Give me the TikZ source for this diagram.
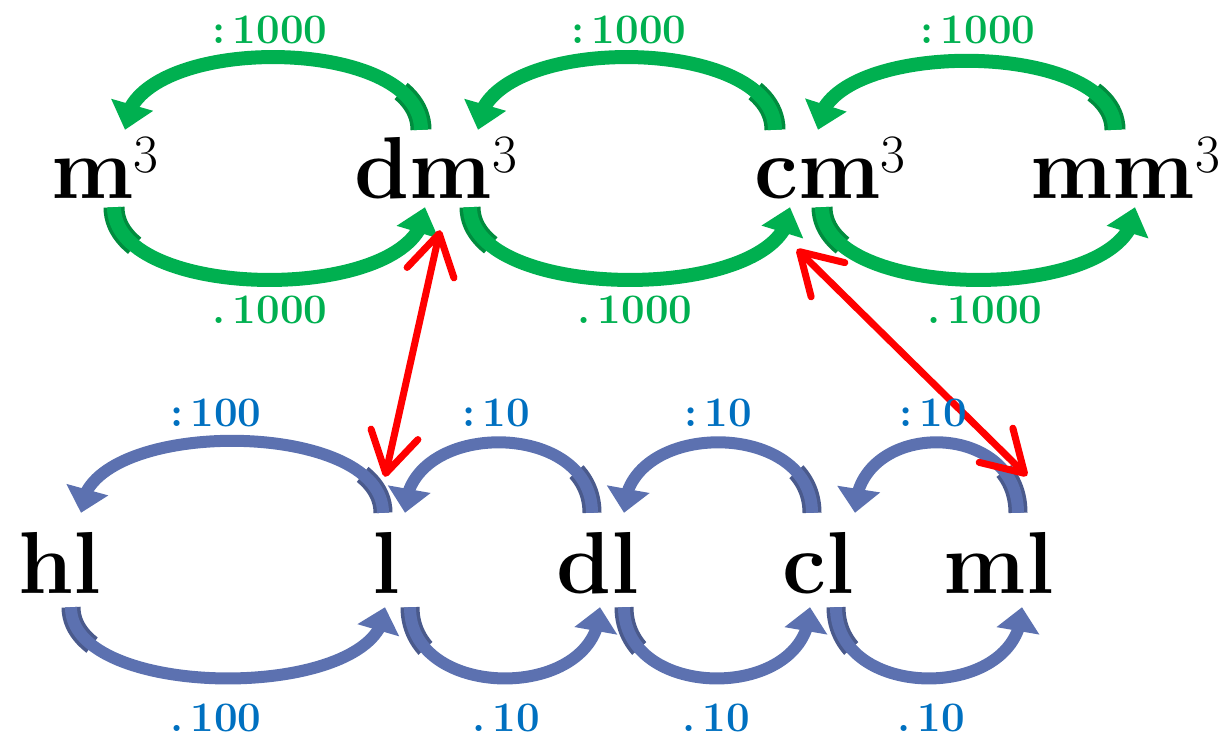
\documentclass[tikz,border=0pt]{standalone}
\usetikzlibrary{arrows.meta, bending}
\definecolor{ArcGreen}{RGB}{0, 176, 80}
\definecolor{ArcGreenDark}{RGB}{0, 140, 62}
\definecolor{ArcBlue}{RGB}{92, 113, 176}
\definecolor{ArcBlueDark}{RGB}{74, 90, 140}
\definecolor{LabelBlue}{RGB}{0, 112, 192}
\newcommand{\cubed}{\raisebox{26pt}{\fontsize{54}{54}\selectfont\mdseries 3}}

\begin{document}
\begin{tikzpicture}[
    x=1pt, y=-1pt,
    unit/.style={font=\fontsize{88}{88}\selectfont\bfseries, inner sep=0pt,
                 text height=62pt, text depth=0pt, anchor=base},
    glabel/.style={font=\fontsize{42}{42}\selectfont\bfseries, text=ArcGreen, inner sep=0pt},
    blabel/.style={font=\fontsize{42}{42}\selectfont\bfseries, text=LabelBlue, inner sep=0pt},
    garc/.style={draw=ArcGreen, line width=14pt, -{Triangle[length=26pt,width=42pt]},
                 preaction={draw=ArcGreenDark, line width=21pt, dash pattern=on 45pt off 5000pt, -}},
    barc/.style={draw=ArcBlue, line width=12pt, -{Triangle[length=24pt,width=42pt]},
                 preaction={draw=ArcBlueDark, line width=19pt, dash pattern=on 45pt off 5000pt, -}},
    link/.style={draw=red, line width=7pt, line cap=round,
                 {Straight Barb[length=40pt,width=48pt,round]}-{Straight Barb[length=40pt,width=48pt,round]}}
]
\useasboundingbox (0,0) rectangle (1230,749);

\node[unit] (m3) at (105,198) {m\cubed};
\node[unit] (dm3) at (436,198) {dm\cubed};
\node[unit] (cm3) at (830,198) {cm\cubed};
\node[unit] (mm3) at (1125,198) {mm\cubed};

\node[unit] (hl) at (60,593) {hl};
\node[unit] (l) at (386,593) {l};
\node[unit] (dl) at (598,593) {dl};
\node[unit] (cl) at (818,593) {cl};
\node[unit] (ml) at (999,593) {ml};

\draw[garc] ([xshift=-15pt,yshift=6pt]dm3.north) .. controls +(0,-97) and +(0,-97) .. ([xshift=20pt,yshift=6pt]m3.north);
\draw[garc] ([xshift=9pt,yshift=-9pt]m3.south) .. controls +(0,97) and +(0,97) .. ([xshift=-11pt,yshift=-9pt]dm3.south);
\draw[garc] ([xshift=-55pt,yshift=6pt]cm3.north) .. controls +(0,-97) and +(0,-97) .. ([xshift=42pt,yshift=6pt]dm3.north);
\draw[garc] ([xshift=34pt,yshift=-9pt]dm3.south) .. controls +(0,97) and +(0,97) .. ([xshift=-40pt,yshift=-9pt]cm3.south);
\draw[garc] ([xshift=-10pt,yshift=6pt]mm3.north) .. controls +(0,-92) and +(0,-92) .. ([xshift=-12pt,yshift=6pt]cm3.north);
\draw[garc] ([xshift=-8pt,yshift=-9pt]cm3.south) .. controls +(0,97) and +(0,97) .. ([xshift=10pt,yshift=-9pt]mm3.south);

\draw[barc] ([xshift=-3pt,yshift=18pt]l.north) .. controls +(0,-96) and +(0,-96) .. ([xshift=21pt,yshift=18pt]hl.north);
\draw[barc] ([xshift=11pt,yshift=-14pt]hl.south) .. controls +(0,95) and +(0,95) .. ([xshift=-1pt,yshift=-14pt]l.south);
\draw[barc] ([xshift=-6pt,yshift=18pt]dl.north) .. controls +(0,-94) and +(0,-94) .. ([xshift=19pt,yshift=18pt]l.north);
\draw[barc] ([xshift=24pt,yshift=-14pt]l.south) .. controls +(0,95) and +(0,95) .. ([xshift=2pt,yshift=-14pt]dl.south);
\draw[barc] ([xshift=-6pt,yshift=18pt]cl.north) .. controls +(0,-94) and +(0,-94) .. ([xshift=26pt,yshift=18pt]dl.north);
\draw[barc] ([xshift=26pt,yshift=-14pt]dl.south) .. controls +(0,95) and +(0,95) .. ([xshift=-8pt,yshift=-14pt]cl.south);
\draw[barc] ([xshift=19pt,yshift=18pt]ml.north) .. controls +(0,-94) and +(0,-94) .. ([xshift=37pt,yshift=18pt]cl.north);
\draw[barc] ([xshift=18pt,yshift=-14pt]cl.south) .. controls +(0,95) and +(0,95) .. ([xshift=23pt,yshift=-14pt]ml.south);

\draw[link] ([xshift=4pt,yshift=-32pt]dm3.south) -- ([xshift=-1pt,yshift=54pt]l.north);
\draw[link] ([xshift=-33pt,yshift=-51pt]cm3.south) -- ([xshift=28pt,yshift=55pt]ml.north);

\node[glabel] (d1) at (270,30) {:\,1000};
\node[glabel] (t1) at (270,310) {.\,1000};
\node[glabel] (d2) at (629,30) {:\,1000};
\node[glabel] (t2) at (635,310) {.\,1000};
\node[glabel] (d3) at (978,30) {:\,1000};
\node[glabel] (t3) at (985,310) {.\,1000};

\node[blabel] (d4) at (216,413) {:\,100};
\node[blabel] (t4) at (216,718) {.\,100};
\node[blabel] (d5) at (496,413) {:\,10};
\node[blabel] (t5) at (506,718) {.\,10};
\node[blabel] (d6) at (718,413) {:\,10};
\node[blabel] (t6) at (716,718) {.\,10};
\node[blabel] (d7) at (933,413) {:\,10};
\node[blabel] (t7) at (931,718) {.\,10};
\end{tikzpicture}
\end{document}
